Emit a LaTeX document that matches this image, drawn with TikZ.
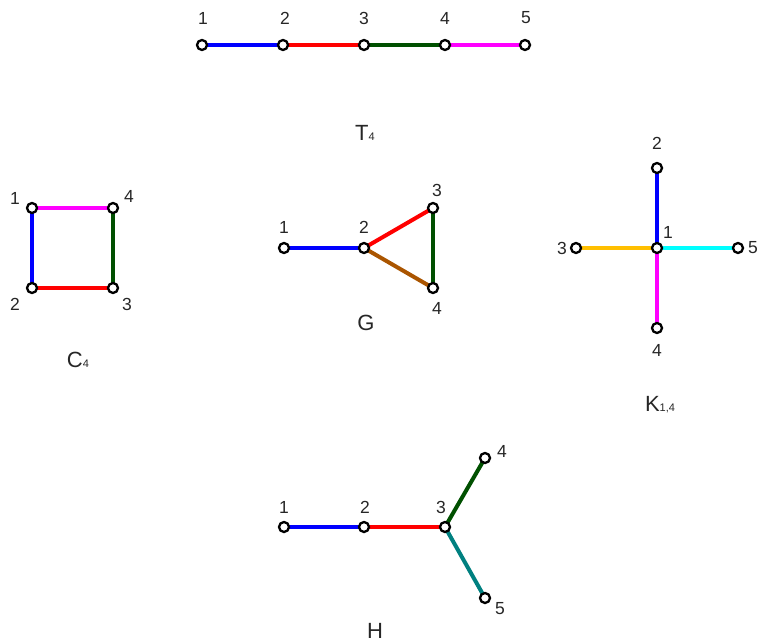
\documentclass[tikz,border=0pt]{standalone}
\usepackage{fontspec}
\setmainfont{Liberation Sans}
\usepackage{xcolor}
\usepackage{tikz}
\usetikzlibrary{backgrounds}
\definecolor{GrBlue}{HTML}{0000FF}
\definecolor{GrRed}{HTML}{FF0000}
\definecolor{GrGreen}{HTML}{005000}
\definecolor{GrMagenta}{HTML}{FF00FF}
\definecolor{GrBrown}{HTML}{AA5500}
\definecolor{GrGold}{HTML}{FFBF00}
\definecolor{GrCyan}{HTML}{00FFFF}
\definecolor{GrTeal}{HTML}{008080}
\definecolor{GrText}{HTML}{262626}
\newcommand{\gname}[2]{#1{\fontsize{11}{11}\selectfont #2}}
\tikzset{
  vtx/.style={circle,draw=black,fill=white,line width=2.3pt,inner sep=0pt,minimum size=10pt},
  lbl/.style={inner sep=0pt,text=GrText,font=\fontsize{17.5}{20}\selectfont},
  title/.style={inner sep=0pt,text=GrText,font=\fontsize{22}{25}\selectfont},
  edge/.style={line width=4pt}
}
\begin{document}
\begin{tikzpicture}[x=1pt,y=-1pt]
  \useasboundingbox (0,0) rectangle (759,642);
  % T4
  \node[vtx] (t1) at (202,45) {};
  \node[vtx] (t2) at (283,45) {};
  \node[vtx] (t3) at (364,45) {};
  \node[vtx] (t4) at (445,45) {};
  \node[vtx] (t5) at (525,45) {};
  \node[lbl] (t1l) at (203,18) {1};
  \node[lbl] (t2l) at (285,18) {2};
  \node[lbl] (t3l) at (364,18) {3};
  \node[lbl] (t4l) at (445,18) {4};
  \node[lbl] (t5l) at (526,18) {5};
  \node[title] (tname) at (365,133) {\gname{T}{4}};
  % C4
  \node[vtx] (c1) at (32,208) {};
  \node[vtx] (c4) at (113,208) {};
  \node[vtx] (c2) at (32,288) {};
  \node[vtx] (c3) at (113,288) {};
  \node[lbl] (c1l) at (15,198) {1};
  \node[lbl] (c4l) at (129,196) {4};
  \node[lbl] (c2l) at (15,304) {2};
  \node[lbl] (c3l) at (127,304) {3};
  \node[title] (cname) at (78,360) {\gname{C}{4}};
  % G
  \node[vtx] (g1) at (284,248) {};
  \node[vtx] (g2) at (364,248) {};
  \node[vtx] (g3) at (433,208) {};
  \node[vtx] (g4) at (433,288) {};
  \node[lbl] (g1l) at (284,227) {1};
  \node[lbl] (g2l) at (364,227) {2};
  \node[lbl] (g3l) at (437,190) {3};
  \node[lbl] (g4l) at (437,308) {4};
  \node[title] (gname) at (366,323) {G};
  % K1,4
  \node[vtx] (k1) at (657,248) {};
  \node[vtx] (k2) at (657,168) {};
  \node[vtx] (k3) at (576,248) {};
  \node[vtx] (k4) at (657,328) {};
  \node[vtx] (k5) at (738,248) {};
  \node[lbl] (k1l) at (668,232) {1};
  \node[lbl] (k2l) at (657,143) {2};
  \node[lbl] (k3l) at (562,248) {3};
  \node[lbl] (k4l) at (657,350) {4};
  \node[lbl] (k5l) at (753,248) {5};
  \node[title] (kname) at (660,405) {\gname{K}{1,4}};
  % H
  \node[vtx] (h1) at (284,527) {};
  \node[vtx] (h2) at (364,527) {};
  \node[vtx] (h3) at (445,527) {};
  \node[vtx] (h4) at (485,458) {};
  \node[vtx] (h5) at (485,598) {};
  \node[lbl] (h1l) at (284,507) {1};
  \node[lbl] (h2l) at (365,507) {2};
  \node[lbl] (h3l) at (441,507) {3};
  \node[lbl] (h4l) at (502,451) {4};
  \node[lbl] (h5l) at (500,609) {5};
  \node[title] (hname) at (375,631) {H};
  \begin{scope}[on background layer]
    \draw[edge,GrBlue] (t1.center)--(t2.center); \draw[edge,GrRed] (t2.center)--(t3.center);
    \draw[edge,GrGreen] (t3.center)--(t4.center); \draw[edge,GrMagenta] (t4.center)--(t5.center);
    \draw[edge,GrMagenta] (c1.center)--(c4.center); \draw[edge,GrBlue] (c1.center)--(c2.center);
    \draw[edge,GrRed] (c2.center)--(c3.center); \draw[edge,GrGreen] (c3.center)--(c4.center);
    \draw[edge,GrBlue] (g1.center)--(g2.center); \draw[edge,GrRed] (g2.center)--(g3.center);
    \draw[edge,GrBrown] (g2.center)--(g4.center); \draw[edge,GrGreen] (g3.center)--(g4.center);
    \draw[edge,GrBlue] (k1.center)--(k2.center); \draw[edge,GrGold] (k1.center)--(k3.center);
    \draw[edge,GrMagenta] (k1.center)--(k4.center); \draw[edge,GrCyan] (k1.center)--(k5.center);
    \draw[edge,GrBlue] (h1.center)--(h2.center); \draw[edge,GrRed] (h2.center)--(h3.center);
    \draw[edge,GrGreen] (h3.center)--(h4.center); \draw[edge,GrTeal] (h3.center)--(h5.center);
  \end{scope}
\end{tikzpicture}
\end{document}
